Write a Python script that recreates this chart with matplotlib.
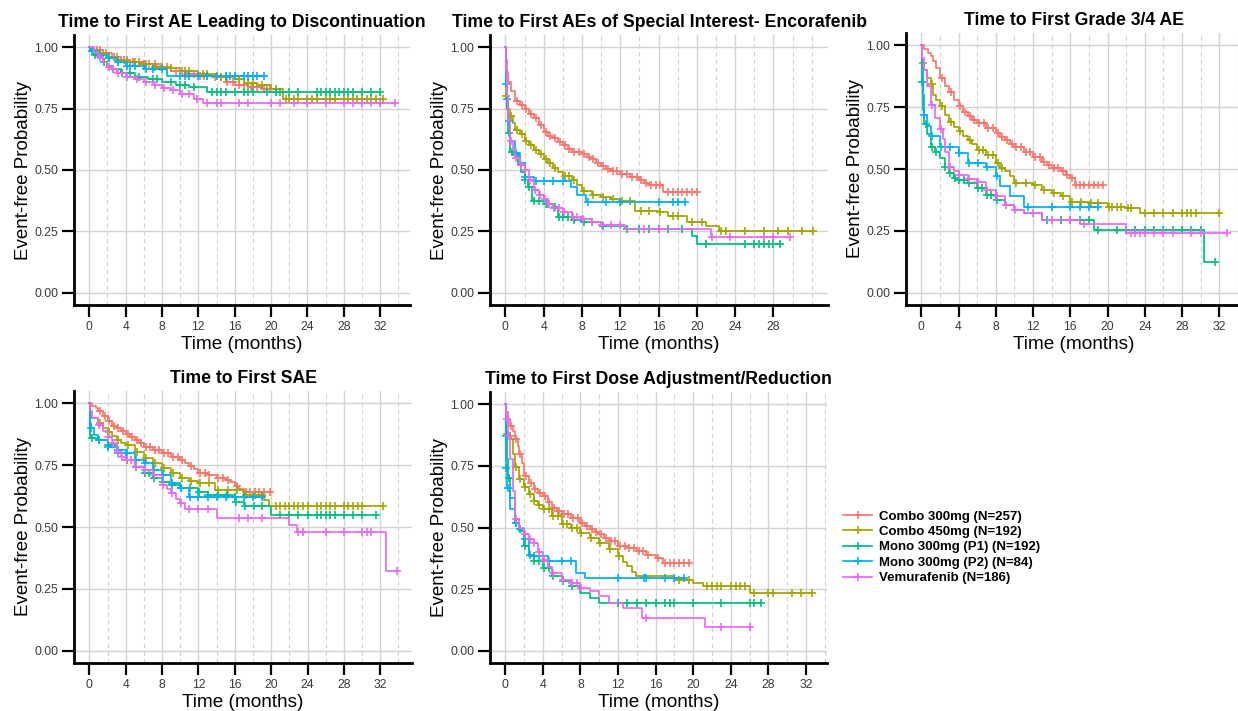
import numpy as np
import matplotlib.pyplot as plt
from matplotlib.lines import Line2D

plt.rcParams['font.family'] = ['Liberation Sans', 'DejaVu Sans']

groups = ["Combo 300mg (N=257)", "Combo 450mg (N=192)", "Mono 300mg (P1) (N=192)",
          "Mono 300mg (P2) (N=84)", "Vemurafenib (N=186)"]
colors = ["#F8766D", "#A3A500", "#00BF7D", "#00B0F6", "#E76BF3"]

# each endpoint: event times (_t), survival after each event (_s), censoring times (_c)
# group order as in `groups`

# AE leading to discontinuation
disc_t = [
    [0.5, 1.5, 2.5, 3.5, 4.5, 6, 7.5, 9, 10.5, 12, 13.5, 15, 16, 17.5, 19],
    [0.3, 1, 2, 3, 4, 5.5, 7, 8.5, 10, 12, 14, 16, 17, 18.5, 20, 21.3],
    [0.1, 0.5, 1, 1.5, 2, 2.5, 3.5, 5, 6.5, 8, 9.5, 11, 13],
    [0.1, 1, 2, 3, 4, 6, 8.5],
    [0.5, 1, 1.5, 2, 2.5, 3, 4, 5, 6, 7, 8, 9, 10, 11.5, 12.5],
]
disc_s = [
    [0.99, 0.975, 0.96, 0.95, 0.94, 0.93, 0.92, 0.905, 0.89, 0.885, 0.878, 0.86, 0.845, 0.84, 0.83],
    [0.99, 0.975, 0.96, 0.95, 0.94, 0.93, 0.92, 0.915, 0.905, 0.89, 0.88, 0.87, 0.855, 0.845, 0.83, 0.79],
    [0.985, 0.97, 0.955, 0.94, 0.925, 0.91, 0.895, 0.88, 0.87, 0.86, 0.845, 0.84, 0.816],
    [0.985, 0.97, 0.955, 0.94, 0.925, 0.91, 0.885],
    [0.98, 0.96, 0.94, 0.92, 0.91, 0.895, 0.88, 0.87, 0.86, 0.845, 0.835, 0.825, 0.81, 0.79, 0.771],
]
disc_c = [
    [0.8, 1.2, 1.8, 2.7, 3, 3.8, 4.2, 4.8, 5.5, 6.2, 6.6, 7.2, 7.8, 8.5, 9.5, 10.2, 10.8, 11.5, 12.2,
     12.6, 13, 13.8, 14.5, 15.2, 15.8, 16.5, 17, 17.8, 18, 18.5, 19.2, 19.5, 19.9],
    [1.2, 2.2, 3.2, 4.2, 5, 6, 7.2, 8, 9, 10.5, 11, 12.5, 13, 14.5, 15, 16.5, 17.5, 18, 19, 20.5,
     21.6, 22, 22.5, 23, 24, 24.5, 25, 26, 26.5, 27, 28, 28.5, 29, 29.5, 30, 30.5, 31, 31.5, 32.3],
    [0.6, 1.6, 2.6, 3.6, 4.5, 5.5, 7, 7.5, 9, 10, 10.5, 11.5, 13.5, 14, 14.5, 15, 16, 17, 17.5, 18,
     19.5, 20.5, 21, 22, 23, 25, 25.5, 26, 26.5, 27, 27.5, 28, 28.5, 29, 30, 31, 32],
    [0.3, 1.2, 2.2, 3.2, 4.2, 4.5, 5, 6.2, 7, 8, 10, 10.5, 11, 12, 13, 14, 15, 15.5, 16, 17, 17.5,
     18, 18.5, 19.2],
    [1.2, 2.2, 2.6, 3.2, 4.2, 5.2, 6.2, 7.2, 8.2, 9.2, 10.2, 11, 11.8, 13, 14, 14.5, 16.5, 17.5, 20,
     21, 22.5, 24, 26, 28, 29, 30, 31, 32, 33.6],
]

# AEs of special interest - encorafenib
aesi_t = [
    [0.05, 0.15, 0.3, 0.6, 1, 1.5, 2, 2.5, 3, 3.5, 4, 4.5, 5, 5.5, 6, 6.5, 7, 8, 8.5, 9, 9.5, 10,
     10.5, 11, 12, 13, 14, 14.5, 15, 16.5],
    [0.05, 0.2, 0.5, 0.8, 1, 1.5, 2, 2.5, 3, 3.5, 4, 4.5, 5, 5.5, 6, 7, 7.5, 8, 9, 10, 11, 12, 13.5,
     16, 17, 19, 21, 22.3],
    [0.05, 0.15, 0.3, 0.5, 1, 1.3, 1.6, 2, 2.4, 2.8, 4, 5, 5.5, 7, 8, 10, 12.5, 19.5, 20],
    [0.05, 0.15, 0.3, 0.5, 1, 1.5, 2, 3, 6.9, 7.5, 8.4],
    [0.05, 0.15, 0.3, 0.5, 0.8, 1, 1.5, 2, 2.5, 3, 3.5, 4, 4.5, 5, 6, 7, 8, 9, 10, 12.5, 21.5],
]
aesi_s = [
    [0.95, 0.9, 0.86, 0.82, 0.78, 0.765, 0.75, 0.73, 0.71, 0.685, 0.655, 0.64, 0.63, 0.615, 0.6,
     0.585, 0.575, 0.565, 0.555, 0.545, 0.53, 0.515, 0.505, 0.495, 0.483, 0.47, 0.458, 0.448, 0.44,
     0.41],
    [0.8, 0.75, 0.72, 0.69, 0.665, 0.645, 0.62, 0.6, 0.58, 0.565, 0.545, 0.53, 0.51, 0.49, 0.475,
     0.46, 0.44, 0.415, 0.4, 0.39, 0.38, 0.375, 0.335, 0.327, 0.313, 0.29, 0.272, 0.25],
    [0.85, 0.75, 0.65, 0.575, 0.56, 0.52, 0.49, 0.46, 0.43, 0.375, 0.36, 0.35, 0.31, 0.295, 0.29,
     0.272, 0.26, 0.23, 0.197],
    [0.85, 0.79, 0.7, 0.62, 0.57, 0.53, 0.47, 0.455, 0.43, 0.4, 0.37],
    [0.9, 0.8, 0.7, 0.62, 0.58, 0.55, 0.52, 0.5, 0.46, 0.42, 0.4, 0.38, 0.36, 0.345, 0.327, 0.31,
     0.3, 0.29, 0.275, 0.258, 0.229],
]
aesi_c = [
    [1.2, 1.7, 2.2, 2.7, 3.2, 3.7, 4.2, 4.7, 5.2, 5.7, 6.2, 6.7, 7.2, 7.7, 8.2, 8.7, 9.2, 9.7, 10.2,
     10.7, 11.2, 11.7, 12.2, 12.7, 13.2, 13.7, 14.2, 14.7, 15.2, 15.7, 16.2, 17, 17.5, 18, 18.5, 19,
     19.5, 20],
    [0.1, 0.6, 1.2, 1.7, 2.2, 2.7, 3.2, 3.7, 4.2, 4.7, 5.2, 6.2, 6.6, 7.2, 8.2, 9.2, 10.2, 11.2,
     12.2, 13, 14.2, 15, 16.2, 17.5, 18, 19.5, 20.5, 22.5, 23, 25, 27, 28.5, 29.5, 31, 32.1],
    [0.4, 0.7, 1.1, 2.1, 2.5, 3, 3.5, 4.2, 4.5, 5.2, 5.6, 6, 6.5, 7.2, 8.2, 9, 10.2, 12.7, 14,
     15, 16, 17, 18.5, 21, 25, 26, 26.5, 27, 27.5, 28, 28.7],
    [0.1, 0.2, 0.4, 1.1, 2.1, 3.2, 4, 5, 6, 8.6, 10.5, 12, 16, 17.5, 18, 18.8],
    [0.6, 1.1, 1.6, 2.1, 2.6, 3.1, 3.6, 4.1, 4.6, 5.1, 5.6, 6.1, 7.1, 7.5, 8.1, 9.1, 10.1, 11, 12,
     14.5, 16, 21.6, 23.5, 27, 28, 29.7],
]

# Grade 3/4 AE
g34_t = [
    [0.3, 0.7, 1, 1.3, 1.6, 2, 2.5, 3, 3.5, 4, 4.5, 5, 5.5, 6, 7, 8, 8.5, 9, 9.5, 10, 11, 12, 13,
     13.5, 14, 15, 15.5, 16, 16.5],
    [0.05, 0.3, 0.6, 1, 1.3, 1.6, 2, 2.5, 3, 3.5, 4, 4.5, 5, 5.5, 6, 7, 8, 8.5, 9, 9.5, 10, 12, 13,
     14, 15, 16, 18, 20, 22, 23.5],
    [0.05, 0.15, 0.3, 0.6, 1, 1.5, 2, 2.5, 3, 3.5, 4, 5, 6, 7, 8, 9, 10, 11, 13, 18.5, 30.4],
    [0.05, 0.15, 0.3, 0.6, 1, 2, 4, 5, 7, 8, 8.5, 9.5, 11],
    [0.1, 0.3, 0.6, 1, 1.5, 2, 2.3, 2.6, 3, 3.5, 4, 5, 6, 7, 8, 9, 10, 11, 13, 17, 22],
]
g34_s = [
    [0.985, 0.97, 0.955, 0.935, 0.91, 0.87, 0.835, 0.81, 0.78, 0.755, 0.73, 0.715, 0.7, 0.686,
     0.665, 0.645, 0.63, 0.618, 0.6, 0.59, 0.57, 0.55, 0.53, 0.515, 0.503, 0.49, 0.475, 0.463,
     0.436],
    [0.93, 0.9, 0.87, 0.845, 0.8, 0.78, 0.755, 0.72, 0.69, 0.67, 0.652, 0.635, 0.618, 0.6, 0.578,
     0.557, 0.524, 0.505, 0.49, 0.47, 0.443, 0.436, 0.416, 0.402, 0.389, 0.368, 0.362, 0.348,
     0.341, 0.324],
    [0.85, 0.74, 0.68, 0.64, 0.59, 0.57, 0.545, 0.51, 0.483, 0.465, 0.456, 0.443, 0.422, 0.395,
     0.375, 0.355, 0.335, 0.321, 0.294, 0.254, 0.125],
    [0.9, 0.8, 0.72, 0.672, 0.632, 0.59, 0.564, 0.524, 0.51, 0.47, 0.43, 0.389, 0.348],
    [0.95, 0.9, 0.834, 0.76, 0.706, 0.66, 0.62, 0.57, 0.51, 0.49, 0.476, 0.46, 0.449, 0.416,
     0.389, 0.355, 0.335, 0.321, 0.294, 0.278, 0.24],
]
g34_c = [
    [2.2, 3.2, 4.2, 4.7, 5.2, 5.7, 6.2, 6.7, 7.2, 7.7, 8.2, 8.7, 9.2, 9.7, 10.2, 10.7, 11.2, 11.7,
     12.2, 12.7, 13.2, 13.7, 14.2, 14.7, 15.2, 15.7, 16.2, 16.6, 17, 17.5, 18, 18.5, 19, 19.5],
    [0.2, 1.1, 2.2, 3.2, 4.2, 5.2, 6.2, 6.6, 7.2, 7.7, 8.2, 8.7, 10.2, 11.2, 12.2, 13.2, 14.2,
     15.2, 16.2, 17.2, 18.2, 19, 20.2, 20.5, 21, 21.5, 22.2, 22.5, 24, 25, 26, 27, 28, 28.5, 29,
     29.5, 32],
    [0.1, 0.5, 1.1, 1.6, 2.6, 3.1, 3.6, 4.1, 4.6, 5.1, 6.1, 6.5, 7.1, 7.5, 8.1, 13.5, 15, 16, 17,
     18, 19, 21, 22, 23, 24, 25, 26, 27, 28, 29, 30, 31.5],
    [0.3, 1.1, 2.1, 3.1, 4.1, 5.1, 6.1, 7.1, 8.1, 11.5, 14, 16, 17, 18, 19],
    [1.1, 2.1, 3.1, 4.1, 5.1, 6.1, 7.1, 8.1, 9.1, 10.1, 12, 14, 16, 17.5, 22.5, 23, 23.5, 24, 25,
     26, 27, 29, 30, 32.8],
]

# SAE
sae_t = [
    [0.3, 0.7, 1, 1.5, 2, 2.5, 3, 3.5, 4, 4.5, 5, 5.5, 6, 7, 8, 9, 10, 10.5, 11, 11.5, 12, 13, 14,
     15, 15.5, 16, 16.5, 17],
    [0.05, 0.3, 1, 1.5, 2, 2.5, 3, 3.5, 4, 5, 6, 7, 8, 9, 10, 11, 12, 13.8, 17, 19.2, 19.8],
    [0.05, 0.2, 1, 2, 3, 4, 5, 6, 7, 8, 9, 10, 12, 13, 16, 17, 20],
    [0.05, 0.2, 0.5, 1, 2, 3, 4, 5, 6, 7, 8, 9, 10, 11],
    [0.1, 0.3, 1, 1.5, 2, 2.5, 3, 3.5, 4, 5, 6, 7, 8, 8.5, 9, 9.5, 10, 10.5, 14, 22, 22.8, 32.6],
]
sae_s = [
    [0.99, 0.98, 0.97, 0.95, 0.93, 0.91, 0.9, 0.89, 0.875, 0.865, 0.852, 0.84, 0.825, 0.812,
     0.798, 0.785, 0.771, 0.76, 0.745, 0.735, 0.72, 0.71, 0.7, 0.69, 0.68, 0.664, 0.655, 0.64],
    [0.95, 0.94, 0.92, 0.9, 0.886, 0.87, 0.852, 0.84, 0.832, 0.805, 0.778, 0.758, 0.738, 0.717,
     0.697, 0.685, 0.677, 0.65, 0.63, 0.61, 0.585],
    [0.87, 0.86, 0.852, 0.832, 0.798, 0.771, 0.744, 0.717, 0.697, 0.684, 0.67, 0.657, 0.643,
     0.63, 0.603, 0.583, 0.549],
    [0.92, 0.9, 0.872, 0.852, 0.825, 0.81, 0.798, 0.771, 0.758, 0.73, 0.71, 0.677, 0.657, 0.623],
    [0.97, 0.94, 0.912, 0.89, 0.865, 0.84, 0.805, 0.785, 0.771, 0.744, 0.73, 0.71, 0.67, 0.655,
     0.637, 0.615, 0.596, 0.572, 0.536, 0.509, 0.478, 0.324],
]
sae_c = [
    [1.2, 1.7, 2.2, 2.7, 3.2, 3.7, 4.2, 4.7, 5.2, 5.7, 6.2, 6.7, 7.2, 7.7, 8.2, 8.7, 9.2, 9.7,
     10.2, 11.2, 12.2, 12.7, 13.2, 14.2, 14.7, 15.2, 16.2, 17.2, 17.7, 18.2, 18.7, 19.2, 19.9],
    [1.2, 2.2, 3.2, 4.2, 5.2, 6.2, 7.2, 8.2, 9.2, 10.2, 11.2, 12.2, 13.2, 14.2, 15.2, 16.2, 17.2,
     18.2, 19, 20.5, 21, 21.5, 22, 22.5, 23, 23.5, 24, 25, 25.5, 26, 26.5, 27, 28, 28.5, 29, 29.5,
     30, 32.3],
    [0.3, 1.1, 2.1, 3.1, 4.1, 5.1, 6.1, 6.6, 7.1, 8.1, 9.1, 10.1, 11.1, 12.1, 13.1, 14.1, 15.1,
     16.1, 17.1, 18.1, 19, 21, 22, 23, 24, 25, 25.5, 26, 26.5, 27, 28, 29, 30, 31.5],
    [0.2, 1.1, 2.1, 3.1, 4.1, 5.1, 6.1, 7.1, 8.1, 9.1, 10.1, 11.1, 12, 13, 14, 15, 16, 17, 18, 19],
    [1.1, 2.1, 2.6, 3.1, 3.6, 4.1, 4.6, 5.1, 6.1, 7.1, 8.1, 9.1, 10.1, 11, 12, 13, 16.5, 17.5,
     19, 23, 23.5, 26, 28, 30, 30.5, 31, 33.8],
]

# dose adjustment / reduction
dose_t = [
    [0.1, 0.3, 0.5, 0.8, 1, 1.3, 1.5, 1.8, 2, 2.5, 3, 3.5, 4, 4.5, 5, 5.5, 6, 7, 8, 8.5, 9, 9.5,
     10, 10.5, 11, 12, 13, 14, 15, 16, 16.8],
    [0.05, 0.3, 0.6, 0.8, 1, 1.5, 2, 2.5, 3, 3.5, 4, 5, 6, 7, 8, 9, 10, 11, 12, 12.5, 13, 13.5,
     13.9, 18, 20, 21, 26],
    [0.05, 0.15, 0.3, 0.5, 1, 1.5, 2, 2.5, 3, 4, 5, 6, 7, 8, 9, 10],
    [0.05, 0.2, 0.5, 1, 1.5, 2, 2.5, 4.5, 7.5, 8.5],
    [0.1, 0.3, 0.5, 0.8, 1, 1.5, 2, 2.5, 3, 3.5, 4, 4.5, 5, 6, 7, 8, 9, 10, 11, 12.5, 14.5, 21.2],
]
dose_s = [
    [0.97, 0.94, 0.914, 0.89, 0.86, 0.83, 0.8, 0.76, 0.71, 0.68, 0.656, 0.64, 0.628, 0.605, 0.58,
     0.565, 0.554, 0.54, 0.52, 0.505, 0.493, 0.48, 0.472, 0.458, 0.445, 0.424, 0.418, 0.404, 0.39,
     0.377, 0.354],
    [0.88, 0.87, 0.86, 0.8, 0.744, 0.697, 0.663, 0.635, 0.608, 0.59, 0.574, 0.547, 0.513, 0.5,
     0.479, 0.458, 0.438, 0.411, 0.384, 0.36, 0.343, 0.32, 0.302, 0.288, 0.275, 0.261, 0.234],
    [0.87, 0.78, 0.7, 0.62, 0.52, 0.493, 0.424, 0.39, 0.363, 0.336, 0.302, 0.282, 0.261, 0.234,
     0.214, 0.193],
    [0.74, 0.66, 0.574, 0.52, 0.486, 0.452, 0.384, 0.363, 0.316, 0.295],
    [0.94, 0.87, 0.778, 0.65, 0.533, 0.5, 0.472, 0.455, 0.438, 0.4, 0.37, 0.34, 0.316, 0.288,
     0.275, 0.254, 0.241, 0.22, 0.193, 0.173, 0.132, 0.098],
]
dose_c = [
    [0.6, 1.1, 1.6, 2.2, 2.7, 3.2, 3.7, 4.2, 4.7, 5.2, 5.7, 6.2, 6.7, 7.2, 7.7, 8.2, 8.7, 9.2, 9.7,
     10.2, 10.7, 11.2, 11.7, 12.2, 12.7, 13.2, 13.7, 14.2, 14.7, 15.2, 16.2, 17, 17.5, 18, 18.5,
     19, 19.5],
    [0.2, 0.5, 1.1, 1.6, 2.1, 2.6, 3.1, 3.6, 4.1, 4.6, 5.1, 5.6, 6.1, 6.6, 7.1, 7.6, 8.1, 9.1,
     10.1, 11.1, 12.1, 18.5, 19.5, 21.5, 22, 22.5, 23, 24, 24.5, 25, 25.5, 26.5, 28, 28.5, 30.5,
     31.5, 32.6],
    [0.1, 0.4, 1.1, 1.6, 2.1, 2.6, 3.1, 3.6, 4.1, 4.6, 5.1, 6.1, 7.1, 12, 13, 14, 15, 16, 17, 17.5,
     18, 20, 23, 26, 26.5, 27.2],
    [0.1, 0.3, 1.1, 2.1, 3.1, 4.6, 6, 7, 12, 14.8, 15, 17, 18, 19],
    [0.2, 0.4, 1.1, 2.1, 2.6, 3.1, 3.6, 4.1, 5.1, 6.1, 7.1, 7.6, 8.1, 15, 23, 26],
]

titles = ["Time to First AE Leading to Discontinuation",
          "Time to First AEs of Special Interest- Encorafenib",
          "Time to First Grade 3/4 AE",
          "Time to First SAE",
          "Time to First Dose Adjustment/Reduction"]
panel_data = [(disc_t, disc_s, disc_c), (aesi_t, aesi_s, aesi_c), (g34_t, g34_s, g34_c),
              (sae_t, sae_s, sae_c), (dose_t, dose_s, dose_c)]
x_breaks = [np.arange(0, 33, 4), np.arange(0, 29, 4), np.arange(0, 33, 4),
            np.arange(0, 33, 4), np.arange(0, 33, 4)]

W, H = 1238, 711
# axes boxes in pixels: left, bottom (from top), width, height
boxes = [(74, 305, 336, 270), (490, 305, 338, 270), (906, 305, 336, 272),
         (74, 663, 338, 272), (490, 663, 337, 271)]

fig = plt.figure(figsize=(W / 100, H / 100), dpi=100)

for k in range(5):
    l, b, w, h = boxes[k]
    ax = fig.add_axes([l / W, (H - b) / H, w / W, h / H])
    t_all, s_all, c_all = panel_data[k]
    xmax = max(max(c) for c in c_all)
    ax.set_xlim(-0.05 * xmax, 1.05 * xmax)
    ax.set_ylim(-0.05, 1.05)

    # grid: solid majors, dashed in-between lines
    majors = x_breaks[k]
    minors = [v for v in np.arange(2, 36, 2) if v not in majors and v <= 1.05 * xmax]
    for v in minors:
        ax.axvline(v, color="#D0D0D0", lw=0.8, ls=(0, (4, 3)), zorder=0)
    for v in majors:
        ax.axvline(v, color="#D2D2D2", lw=1.0, zorder=0)
    for v in [0, 0.25, 0.5, 0.75, 1.0]:
        ax.axhline(v, color="#D2D2D2", lw=1.0, zorder=0)

    for g in range(5):
        t = np.array(t_all[g])
        s = np.array(s_all[g])
        c = np.array(c_all[g])
        xs = np.concatenate([[0], t, [c.max()]])
        ys = np.concatenate([[1.0], s, [s[-1]]])
        ax.step(xs, ys, where="post", color=colors[g], lw=1.25, zorder=2 + g)
        idx = np.searchsorted(t, c, side="right")
        cy = np.concatenate([[1.0], s])[idx]
        ax.plot(c, cy, ls="none", marker="+", ms=6, mew=1.2, color=colors[g], zorder=2 + g)

    ax.set_xticks(majors)
    ax.set_yticks([0, 0.25, 0.5, 0.75, 1.0])
    ax.set_yticklabels(["0.00", "0.25", "0.50", "0.75", "1.00"])
    for side in ["top", "right"]:
        ax.spines[side].set_visible(False)
    for side in ["left", "bottom"]:
        ax.spines[side].set_linewidth(2.0)
    ax.tick_params(direction="out", length=8.5, width=1.6, colors="black",
                   labelcolor="#3A3A3A", labelsize=8.8, pad=3)
    ax.set_xlabel("Time (months)", fontsize=13.7, labelpad=2)
    ax.set_ylabel("Event-free Probability", fontsize=13.5, labelpad=1.5)
    ax.set_title(titles[k], fontsize=12.7, fontweight="bold", pad=6)

handles = [Line2D([0], [0], color=colors[g], lw=1.25, marker="+", ms=6, mew=1.2)
           for g in range(5)]
fig.legend(handles, groups, loc="upper left", bbox_to_anchor=(838 / W, (H - 505) / H),
           frameon=False, prop={"weight": "bold", "size": 9.5}, handlelength=2.2,
           handletextpad=0.5, labelspacing=0.24, borderaxespad=0)

fig.savefig("out.png", dpi=100)
